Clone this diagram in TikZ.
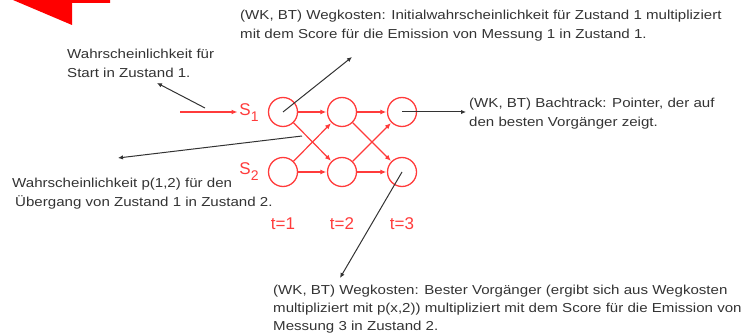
\documentclass[tikz,border=0pt]{standalone}
\usepackage{fontspec}
\setmainfont{Liberation Sans}
\newfontfamily\notefont[FakeStretch=1.16]{Liberation Sans}
\usetikzlibrary{arrows.meta}
\definecolor{hmmred}{HTML}{FF3B3B}
\definecolor{notegray}{HTML}{333333}
\tikzset{
  state/.style={circle, draw=hmmred, line width=1.3pt, minimum size=29pt, inner sep=0pt},
  trans/.style={draw=hmmred, line width=1.2pt, -{Latex[length=6pt,width=5pt]}, shorten >=0.5pt},
  note/.style={text=notegray, font=\notefont\fontsize{13}{19.2}\selectfont, align=left, inner sep=0pt, anchor=north west},
  pointer/.style={draw=notegray, line width=1pt, -{Latex[length=5pt,width=4.5pt]}},
  redlabel/.style={text=hmmred, font=\fontsize{17}{17}\selectfont, inner sep=0pt},
}
\begin{document}
\begin{tikzpicture}[x=1pt,y=-1pt]
\useasboundingbox (0,0) rectangle (742,334);
% corner of the large red arrow
\fill[red] (13,0) -- (110,0) -- (110,3) -- (72,3) -- (72,25) -- cycle;

% trellis states
\node[state] (a1) at (283,112) {};
\node[state] (a2) at (342,112) {};
\node[state] (a3) at (402,112) {};
\node[state] (b1) at (283,172) {};
\node[state] (b2) at (342,172) {};
\node[state] (b3) at (402,172) {};

% state and time labels
\node[redlabel] (s1) at (249,113) {S\raisebox{-6pt}{\fontsize{14}{14}\selectfont 1}};
\node[redlabel] (s2) at (249,172) {S\raisebox{-6pt}{\fontsize{14}{14}\selectfont 2}};
\node[redlabel] (t1) at (283,224) {t=1};
\node[redlabel] (t2) at (342,224) {t=2};
\node[redlabel] (t3) at (402,224) {t=3};

% start arrow
\coordinate (startfrom) at (180,112);
\draw[trans] (startfrom) -- (238,112);

% transitions
\draw[trans] (a1) -- (a2);
\draw[trans] (a2) -- (a3);
\draw[trans] (b1) -- (b2);
\draw[trans] (b2) -- (b3);
\draw[trans] (a1) -- (b2);
\draw[trans] (b1) -- (a2);
\draw[trans] (a2) -- (b3);
\draw[trans] (b2) -- (a3);

% notes
\node[note] (nstart) at (67,49) {Wahrscheinlichkeit für\\Start in Zustand 1.};
\node[note] (ninit) at (240,10) {(WK, BT) Wegkosten: Initialwahrscheinlichkeit für Zustand 1 multipliziert\\mit dem Score für die Emission von Messung 1 in Zustand 1.};
\node[note] (nback) at (469,98) {(WK, BT) Bachtrack: Pointer, der auf\\den besten Vorgänger zeigt.};
\node[note] (ntrans) at (12,178) {Wahrscheinlichkeit p(1,2) für den\\\hspace*{3pt}Übergang von Zustand 1 in Zustand 2.};
\node[note, font=\notefont\fontsize{13}{18}\selectfont] (nbest) at (273,285) {(WK, BT) Wegkosten: Bester Vorgänger (ergibt sich aus Wegkosten\\multipliziert mit p(x,2)) multipliziert mit dem Score für die Emission von\\Messung 3 in Zustand 2.};

% pointers from the trellis to the notes
\coordinate (startpt) at (205,108);
\coordinate (startend) at (157,83);
\draw[pointer] (startpt) -- (startend);
\coordinate (initend) at (352,57);
\draw[pointer] (a1.center) -- (initend);
\coordinate (backend) at (466,112);
\draw[pointer] (a3.center) -- (backend);
\coordinate (crosspt) at (302,136);
\coordinate (transend) at (118,158);
\draw[pointer] (crosspt) -- (transend);
\coordinate (bestend) at (340,278);
\draw[pointer] (b3.center) -- (bestend);
\end{tikzpicture}
\end{document}
